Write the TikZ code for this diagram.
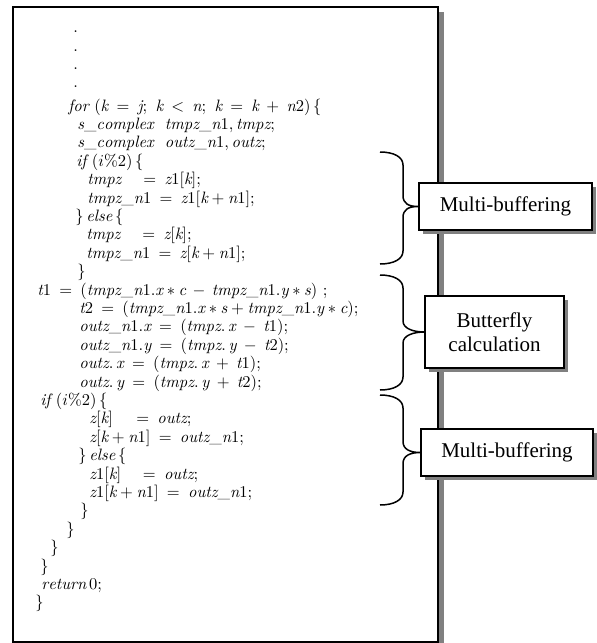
\documentclass[tikz,border=0pt]{standalone}
\usepackage{fontspec}
\newfontfamily\labelfont{Liberation Serif}
\usetikzlibrary{shadows,calc}
% italic identifiers set in the text italic, digits stay upright
\newcommand\iv[1]{\mathit{#1}}
% left part of an assignment padded to a fixed width
\newcommand\lhs[2]{\makebox[#1][l]{$#2$}}

\begin{document}
\begin{tikzpicture}[x=1pt,y=-1pt,
  code/.style={anchor=base west, inner sep=0pt, font=\fontsize{10}{12}\selectfont, scale=1.65},
  tag/.style={draw, line width=1.3pt, fill=white, align=center, inner sep=0pt,
    font=\labelfont\fontsize{21}{24}\selectfont,
    drop shadow={shadow xshift=4pt, shadow yshift=-4pt, fill=gray, opacity=1}},
  bracestroke/.style={line width=1.5pt}]
\useasboundingbox (0,0) rectangle (597,643);

% page frame with its shadow
\fill[gray] (18,12) rectangle (443.5,650);
\draw[line width=1.8pt, fill=white] (13,7) rectangle (438,642);

% code listing
\node[code] (c0)  at (73,32)   {$.$};
\node[code] (c1)  at (73,51)   {$.$};
\node[code] (c2)  at (73,69)   {$.$};
\node[code] (c3)  at (73,87)   {$.$};
\node[code] (c4)  at (68,111)  {$\iv{for}\ (\iv{k}\:=\:\iv{j};\ \iv{k}\:<\:\iv{n};\ \iv{k}\:=\:\iv{k}\:+\:\iv{n}2)\,\{$};
\node[code] (c5)  at (77,129.4) {$\iv{s\_complex}\ \ \iv{tmpz\_n}1,\iv{tmpz};$};
\node[code] (c6)  at (77,147.8) {$\iv{s\_complex}\ \ \iv{outz\_n}1,\iv{outz};$};
\node[code] (c7)  at (76,166.2) {$\iv{if}\ (i\%2)\,\{$};
\node[code] (c8)  at (87,184.6) {\lhs{3.4em}{\iv{tmpz}}$=\:\iv{z}1[\iv{k}];$};
\node[code] (c9)  at (87,203)   {$\iv{tmpz\_n}1\:=\:\iv{z}1[\iv{k}+\iv{n}1];$};
\node[code] (c10) at (75,221.4) {$\}\,\iv{else}\,\{$};
\node[code] (c11) at (86,239.8) {\lhs{3.4em}{\iv{tmpz}}$=\:\iv{z}[\iv{k}];$};
\node[code] (c12) at (86,258.2) {$\iv{tmpz\_n}1\:=\:\iv{z}[\iv{k}+\iv{n}1];$};
\node[code] (c13) at (77,276.6) {$\}$};
\node[code] (c14) at (37,295)   {$\iv{t}1\:=\:(\iv{tmpz\_n}1.\iv{x}\ast\iv{c}\,-\,\iv{tmpz\_n}1.\iv{y}\ast\iv{s})\ ;$};
\node[code] (c15) at (79,313.4) {$\iv{t}2\:=\:(\iv{tmpz\_n}1.\iv{x}\ast\iv{s}+\iv{tmpz\_n}1.\iv{y}\ast\iv{c});$};
\node[code] (c16) at (79,331.8) {$\iv{outz\_n}1.\iv{x}\:=\:(\iv{tmpz}.\,\iv{x}\:-\:\iv{t}1);$};
\node[code] (c17) at (79,350.2) {$\iv{outz\_n}1.\iv{y}\:=\:(\iv{tmpz}.\,\iv{y}\:-\:\iv{t}2);$};
\node[code] (c18) at (79,368.6) {$\iv{outz}.\,\iv{x}\:=\:(\iv{tmpz}.\,\iv{x}\:+\:\iv{t}1);$};
\node[code] (c19) at (79,387)   {$\iv{outz}.\,\iv{y}\:=\:(\iv{tmpz}.\,\iv{y}\:+\:\iv{t}2);$};
\node[code] (c20) at (40,405.4) {$\iv{if}\ (i\%2)\,\{$};
\node[code] (c21) at (89,423.8) {\lhs{2.85em}{\iv{z}[\iv{k}]}$=\:\iv{outz};$};
\node[code] (c22) at (89,442.2) {$\iv{z}[\iv{k}+\iv{n}1]\:=\:\iv{outz\_n}1;$};
\node[code] (c23) at (78,460.6) {$\}\,\iv{else}\,\{$};
\node[code] (c24) at (89,479)   {\lhs{3.25em}{\iv{z}1[\iv{k}]}$=\:\iv{outz};$};
\node[code] (c25) at (89,497.4) {$\iv{z}1[\iv{k}+\iv{n}1]\:=\:\iv{outz\_n}1;$};
\node[code] (c26) at (80,515.8) {$\}$};
\node[code] (c27) at (66,534.2) {$\}$};
\node[code] (c28) at (50,552.6) {$\}$};
\node[code] (c29) at (40,571)   {$\}$};
\node[code] (c30) at (41,589.4) {$\iv{return}\,0;$};
\node[code] (c31) at (35,607.8) {$\}$};

% section labels
\node[tag, minimum width=173pt, minimum height=47pt] (m1) at (505.5,206.5) {Multi-buffering};
\node[tag, minimum width=139pt, minimum height=72pt] (m2) at (494.5,332) {Butterfly\\calculation};
\node[tag, minimum width=172pt, minimum height=47pt] (m3) at (507,452.5) {Multi-buffering};

% brace end points and common spine
\coordinate (spine) at (403,0);
\coordinate (b1T) at (380,152);
\coordinate (b1B) at (380,264);
\coordinate (b2T) at (380,275);
\coordinate (b2B) at (380,390);
\coordinate (b3T) at (380,395);
\coordinate (b3B) at (380,505);

\foreach \k in {1,2,3}{
  \draw[bracestroke] (b\k T) .. controls +(14,0) and +(0,-8) .. ($(b\k T)+(23,13)$)
    -- ($(spine |- m\k.west)+(0,-11)$) .. controls +(0,8) and +(-10,0) .. (m\k.west)
    .. controls +(-10,0) and +(0,-8) .. ($(spine |- m\k.west)+(0,11)$)
    -- ($(b\k B)+(23,-13)$) .. controls +(0,8) and +(14,0) .. (b\k B);
}
\end{tikzpicture}
\end{document}
